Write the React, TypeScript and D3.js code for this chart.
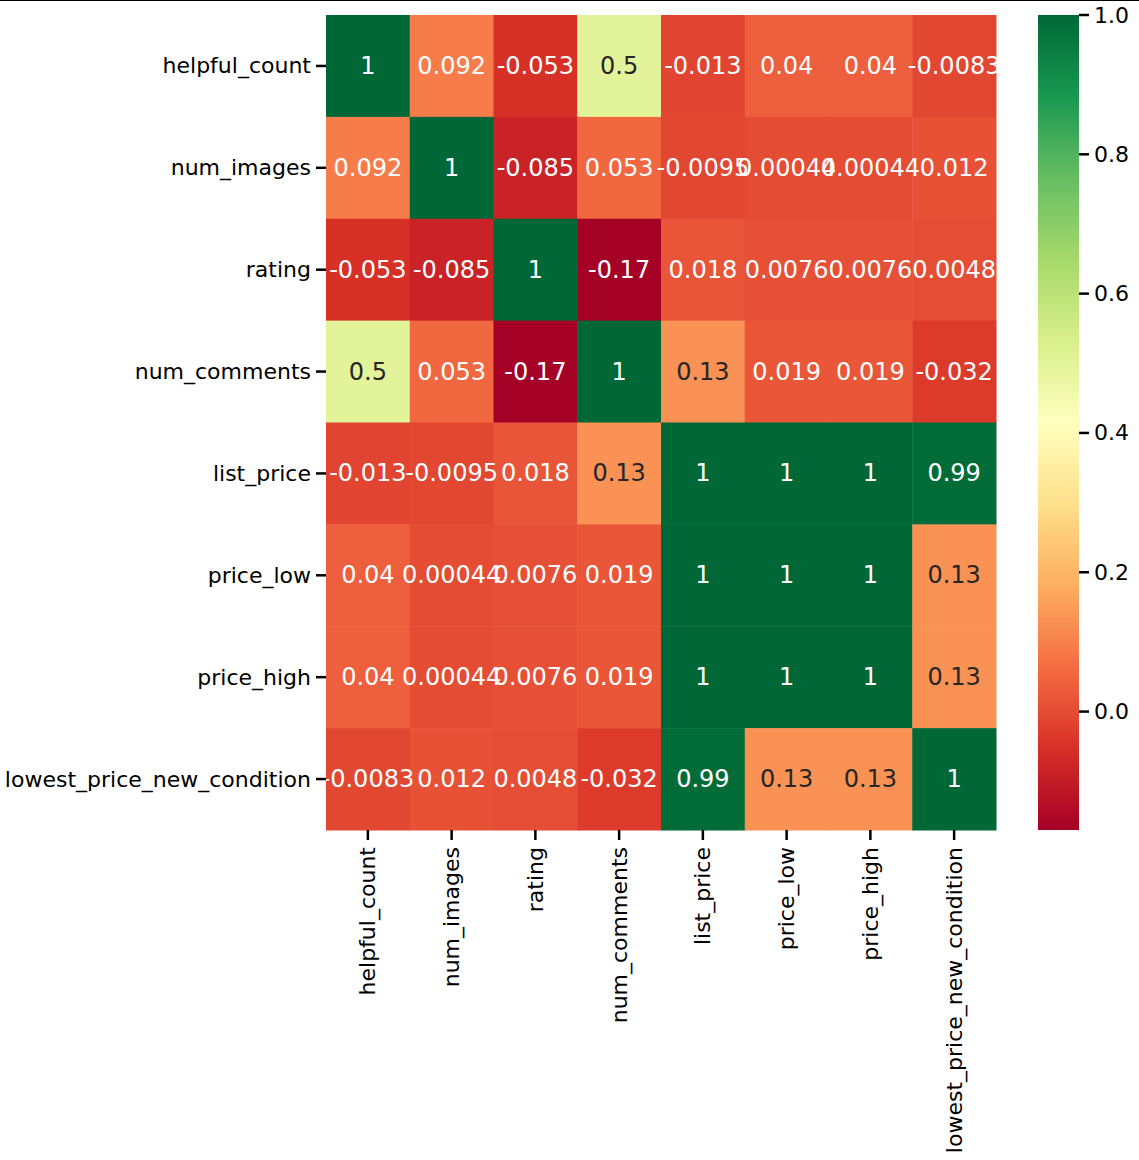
import React from "react";
import * as d3 from "d3";

const labels = [
  "helpful_count",
  "num_images",
  "rating",
  "num_comments",
  "list_price",
  "price_low",
  "price_high",
  "lowest_price_new_condition",
];

const rowHelpful = [1, 0.092, -0.053, 0.5, -0.013, 0.04, 0.04, -0.0083];
const rowImages = [0.092, 1, -0.085, 0.053, -0.0095, 0.00044, 0.00044, 0.012];
const rowRating = [-0.053, -0.085, 1, -0.17, 0.018, 0.0076, 0.0076, 0.0048];
const rowComments = [0.5, 0.053, -0.17, 1, 0.13, 0.019, 0.019, -0.032];
const rowList = [-0.013, -0.0095, 0.018, 0.13, 1, 1, 1, 0.99];
const rowLow = [0.04, 0.00044, 0.0076, 0.019, 1, 1, 1, 0.13];
const rowHigh = [0.04, 0.00044, 0.0076, 0.019, 1, 1, 1, 0.13];
const rowLowest = [-0.0083, 0.012, 0.0048, -0.032, 0.99, 0.13, 0.13, 1];

const matrix = [rowHelpful, rowImages, rowRating, rowComments, rowList, rowLow, rowHigh, rowLowest];

const colorbarTicks = [0.0, 0.2, 0.4, 0.6, 0.8, 1.0];
const vmin = -0.17;
const vmax = 1.0;

const W = 1139;
const H = 1160;
const left = 326;
const right = 996;
const top = 15;
const bottom = 830;
const cbLeft = 1038;
const cbRight = 1079;
const FONT = "DejaVu Sans";

const stops = d3.schemeRdYlGn[11];
const norm = d3.scaleLinear().domain([vmin, vmax]).range([0, 1]).clamp(true);
const cmapScale = d3
  .scaleLinear<string>()
  .domain(stops.map((_, i) => i / (stops.length - 1)))
  .range(stops as string[])
  .interpolate(d3.interpolateRgb);
const color = (v: number) => cmapScale(norm(v));

function luminance(c: string) {
  const rgb = d3.rgb(c);
  const f = (x: number) => {
    const s = x / 255;
    return s <= 0.03928 ? s / 12.92 : Math.pow((s + 0.055) / 1.055, 2.4);
  };
  return 0.2126 * f(rgb.r) + 0.7152 * f(rgb.g) + 0.0722 * f(rgb.b);
}

function fmt(v: number) {
  // matplotlib ".2g" (trailing zeros trimmed)
  const s = d3.format(".2~g")(v);
  return s.replace("−", "-");
}

export default function App() {
  const x = d3.scaleBand<string>().domain(labels).range([left, right]);
  const y = d3.scaleBand<string>().domain(labels).range([top, bottom]);
  const cbY = d3.scaleLinear().domain([vmin, vmax]).range([bottom, top]);
  const gradSteps = d3.range(0, 256).map((i) => i / 255);

  return (
    <svg
      width={W}
      height={H}
      style={{ position: "absolute", left: 0, top: 0, background: "#fff" }}
      fontFamily={FONT}
    >
      <defs>
        <linearGradient id="cb" x1="0" y1="1" x2="0" y2="0">
          {gradSteps.map((t) => (
            <stop key={t} offset={t} stopColor={cmapScale(t)} />
          ))}
        </linearGradient>
      </defs>
      <rect x={0} y={0} width={W} height={H} fill="#fff" />
      <line x1={0} x2={W} y1={0.5} y2={0.5} stroke="#000" strokeWidth={1.2} />
      {matrix.map((row, ri) =>
        row.map((v, ci) => (
          <rect
            key={`r${ri}-${ci}`}
            x={x(labels[ci])!}
            y={y(labels[ri])!}
            width={x.bandwidth() + 0.5}
            height={y.bandwidth() + 0.5}
            fill={color(v)}
          />
        ))
      )}
      {matrix.map((row, ri) =>
        row.map((v, ci) => {
          const c = color(v);
          const tc = luminance(c) > 0.408 ? "#262626" : "#ffffff";
          return (
            <text
              key={`t${ri}-${ci}`}
              x={x(labels[ci])! + x.bandwidth() / 2}
              y={y(labels[ri])! + y.bandwidth() / 2}
              textAnchor="middle"
              dominantBaseline="central"
              fontSize={24}
              fill={tc}
            >
              {fmt(v)}
            </text>
          );
        })
      )}
      {labels.map((l) => {
        const cy = y(l)! + y.bandwidth() / 2;
        return (
          <g key={`yl${l}`}>
            <line x1={left - 10} x2={left} y1={cy} y2={cy} stroke="#000" strokeWidth={2.5} />
            <text x={left - 15} y={cy} textAnchor="end" dominantBaseline="central" fontSize={22} fill="#000">
              {l}
            </text>
          </g>
        );
      })}
      {labels.map((l) => {
        const cx = x(l)! + x.bandwidth() / 2;
        return (
          <g key={`xl${l}`}>
            <line x1={cx} x2={cx} y1={bottom} y2={bottom + 10} stroke="#000" strokeWidth={2.5} />
            <text
              transform={`translate(${cx},${bottom + 17}) rotate(-90)`}
              textAnchor="end"
              dominantBaseline="central"
              fontSize={22}
              fill="#000"
            >
              {l}
            </text>
          </g>
        );
      })}
      <rect x={cbLeft} y={top} width={cbRight - cbLeft} height={bottom - top} fill="url(#cb)" />
      {colorbarTicks.map((t) => (
        <g key={`cb${t}`}>
          <line x1={cbRight} x2={cbRight + 10} y1={cbY(t)} y2={cbY(t)} stroke="#000" strokeWidth={2.5} />
          <text x={cbRight + 15} y={cbY(t)} dominantBaseline="central" fontSize={22} fill="#000">
            {t.toFixed(1)}
          </text>
        </g>
      ))}
    </svg>
  );
}
